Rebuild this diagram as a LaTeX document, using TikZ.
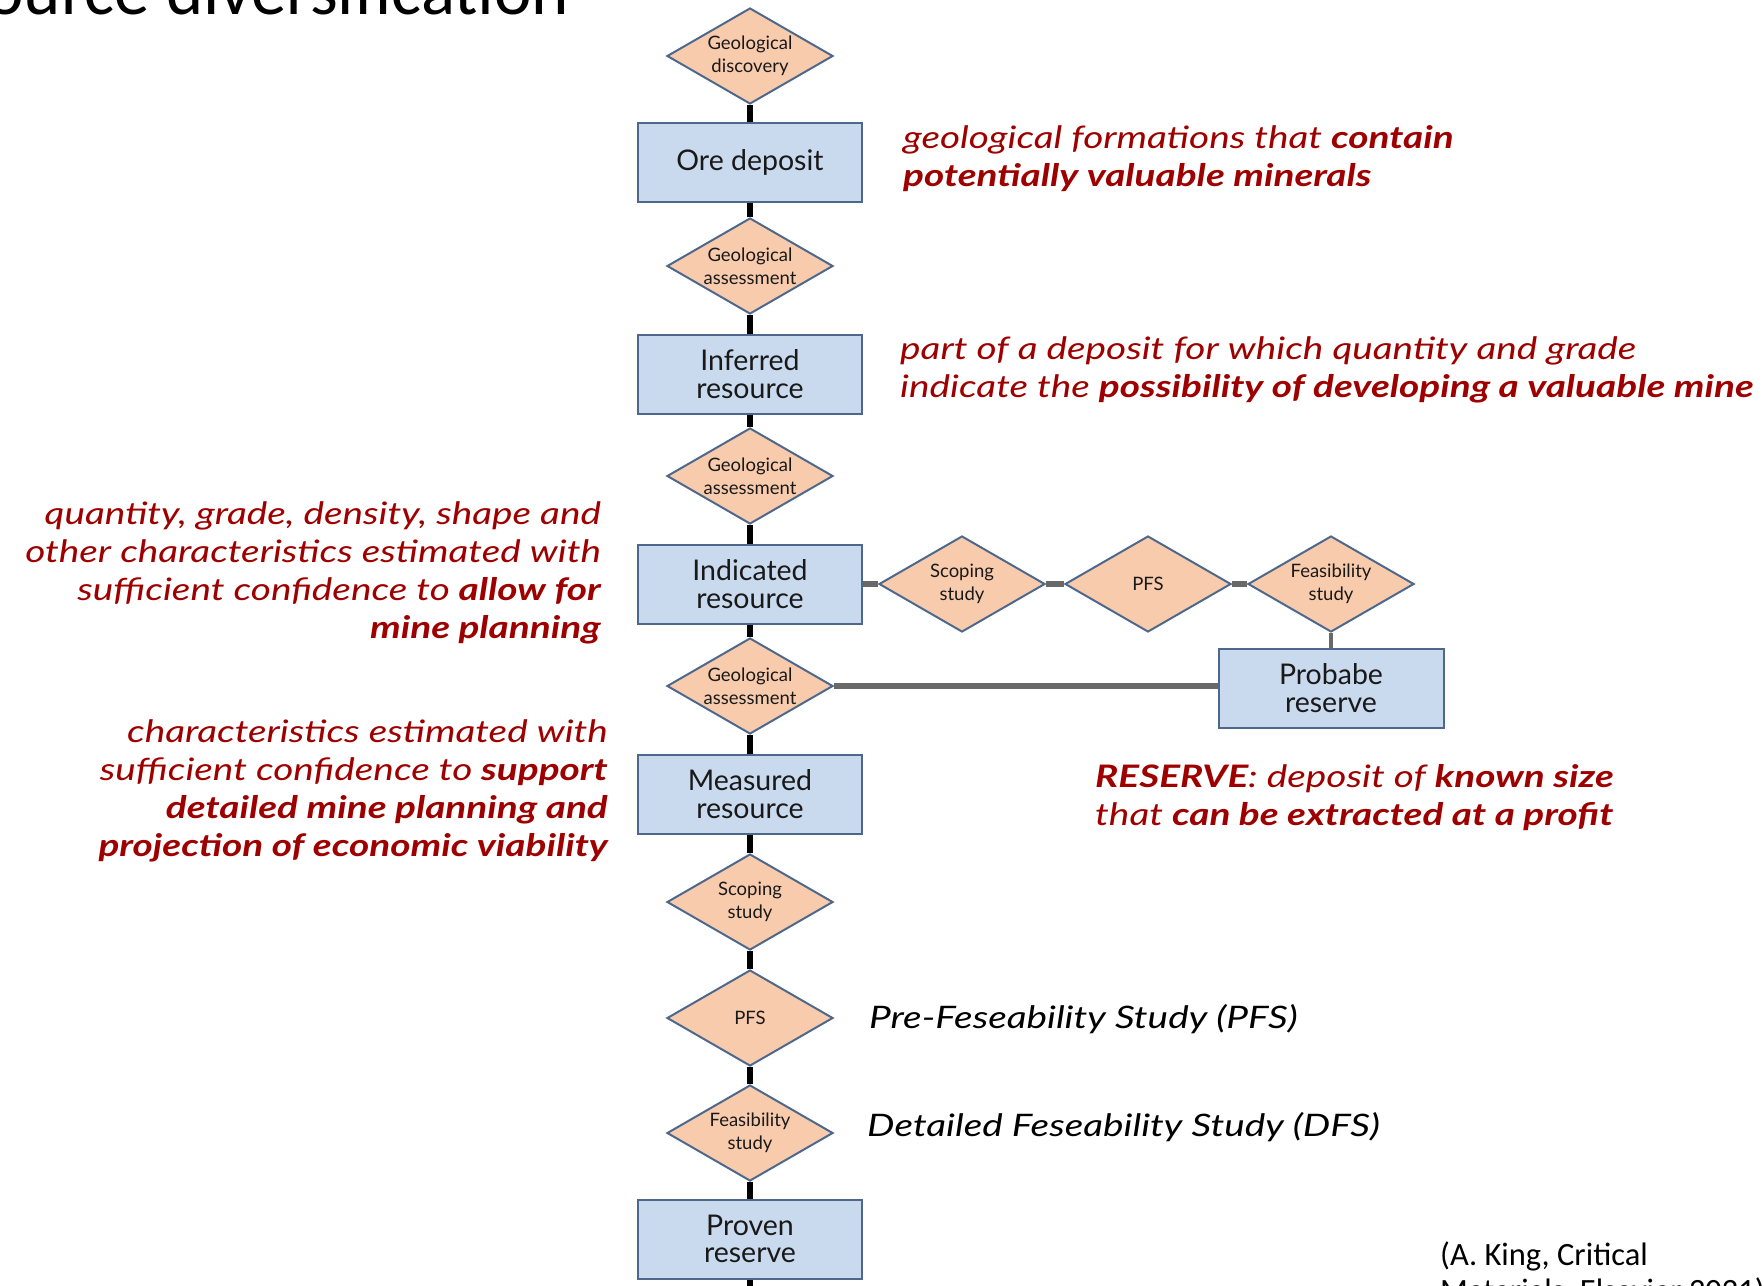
\documentclass[tikz,border=0pt]{standalone}
\usepackage{fontspec}
\usetikzlibrary{shapes.geometric}
\setmainfont{Lato}
\newfontfamily\handfont[FakeStretch=1.25]{Lato}
\newfontfamily\citefont{Carlito}
\newcommand{\hlb}[1]{{\bfseries #1}}
\definecolor{handred}{RGB}{158,0,0}
\definecolor{diafill}{RGB}{248,203,173}
\definecolor{boxfill}{RGB}{201,218,238}
\definecolor{edgeblue}{RGB}{78,104,140}
\definecolor{linkgrey}{RGB}{105,105,105}
\tikzset{
  dia/.style={shape=diamond, aspect=1.73, inner sep=0pt,
    minimum width=166pt, minimum height=96pt,
    fill=diafill, draw=edgeblue, line width=2pt,
    align=center, text=black!90, font=\fontsize{18.5}{23}\selectfont},
  blk/.style={rectangle, inner sep=0pt,
    minimum width=224pt, minimum height=79pt,
    fill=boxfill, draw=edgeblue, line width=2pt,
    align=center, text=black!90, font=\fontsize{28.5}{27.5}\selectfont},
  mainlink/.style={line width=6pt, black},
  sidelink/.style={line width=6pt, linkgrey},
  hand/.style={inner sep=0pt, text=handred,
    font=\handfont\itshape\fontsize{31}{38}\selectfont},
  handblack/.style={hand, text=black},
}
\begin{document}
\begin{tikzpicture}[x=1pt, y=-1pt]
\useasboundingbox (0,0) rectangle (1764,1285);
\clip (0,0) rectangle (1764,1285);

% page heading, mostly above the visible area
\node[font=\citefont\fontsize{71}{71}\selectfont, anchor=base east, inner sep=0pt]
  (heading) at (569,14) {Resource diversification};

% main column
\node[dia] (disc) at (750,56) {Geological\\discovery};
\node[blk] (ore)  at (750,162) {Ore deposit};
\node[dia] (ga1)  at (750,266) {Geological\\assessment};
\node[blk] (inf)  at (750,374) {Inferred\\resource};
\node[dia] (ga2)  at (750,476) {Geological\\assessment};
\node[blk] (ind)  at (750,584) {Indicated\\resource};
\node[dia] (ga3)  at (750,686) {Geological\\assessment};
\node[blk] (meas) at (750,794) {Measured\\resource};
\node[dia] (scv)  at (750,902) {Scoping\\study};
\node[dia] (pfsv) at (750,1018) {PFS};
\node[dia] (feav) at (750,1133) {Feasibility\\study};
\node[blk] (prov) at (750,1239) {Proven\\reserve};
\coordinate (tail) at (750,1295);

% side branch
\node[dia] (sch)  at (962,584) {Scoping\\study};
\node[dia] (pfsh) at (1148,584) {PFS};
\node[dia] (feah) at (1331,584) {Feasibility\\study};
\node[blk, minimum width=225pt] (prob) at (1331,688) {Probabe\\reserve};

% connectors
\draw[mainlink] (disc.south) -- (ore.north);
\draw[mainlink] (ore.south) -- (ga1.north);
\draw[mainlink] (ga1.south) -- (inf.north);
\draw[mainlink] (inf.south) -- (ga2.north);
\draw[mainlink] (ga2.south) -- (ind.north);
\draw[mainlink] (ind.south) -- (ga3.north);
\draw[mainlink] (ga3.south) -- (meas.north);
\draw[mainlink] (meas.south) -- (scv.north);
\draw[mainlink] (scv.south) -- (pfsv.north);
\draw[mainlink] (pfsv.south) -- (feav.north);
\draw[mainlink] (feav.south) -- (prov.north);
\draw[mainlink] (prov.south) -- (tail);

\draw[sidelink] (ind.east) -- (sch.west);
\draw[sidelink] (sch.east) -- (pfsh.west);
\draw[sidelink] (pfsh.east) -- (feah.west);
\draw[sidelink, line width=4.5pt] (feah.south) -- (prob.north);
\draw[sidelink] (ga3.east) -- (ga3.east -| prob.west);

% annotations
\node[hand, anchor=west, align=left] (noteore) at (903,159)
  {geological formations that \hlb{contain}\\\hlb{potentially valuable minerals}};
\node[hand, anchor=west, align=left] (noteinf) at (900,370)
  {part of a deposit for which quantity and grade\\indicate the \hlb{possibility of developing a valuable mine}};
\node[hand, anchor=east, align=right] (noteind) at (601,573)
  {quantity, grade, density, shape and\\other characteristics estimated with\\sufficient confidence to \hlb{allow for}\\\hlb{mine planning}};
\node[hand, anchor=east, align=right] (notemeas) at (608,791)
  {characteristics estimated with\\sufficient confidence to \hlb{support}\\\hlb{detailed mine planning and}\\\hlb{projection of economic viability}};
\node[hand, anchor=west, align=left] (noteres) at (1095,798)
  {\hlb{RESERVE}: deposit of \hlb{known size}\\that \hlb{can be extracted at a profit}};
\node[handblack, anchor=west] (notepfs) at (869,1019) {Pre-Feseability Study (PFS)};
\node[handblack, anchor=west] (notedfs) at (867,1127) {Detailed Feseability Study (DFS)};

% source, second line runs past the lower edge
\node[font=\citefont\fontsize{32.5}{36}\selectfont, anchor=base west, align=left, inner sep=0pt]
  (source) at (1440,1301) {(A. King, Critical\\Materials, Elsevier 2021)};
\end{tikzpicture}
\end{document}
